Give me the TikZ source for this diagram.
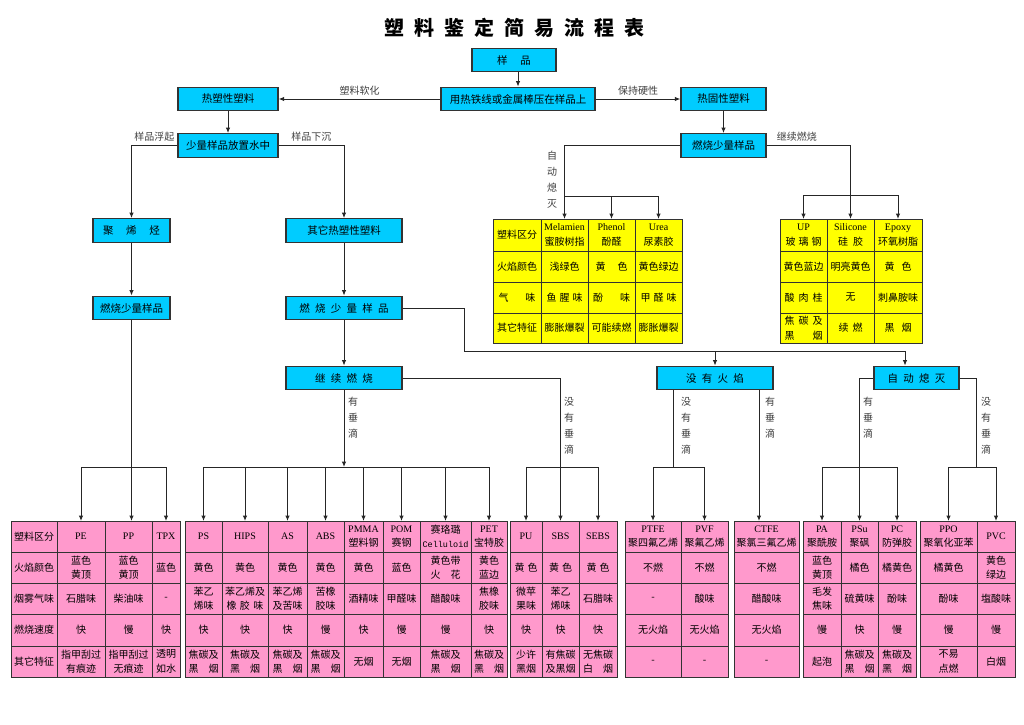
\documentclass[tikz,border=0pt]{standalone}
\usepackage{fontspec}
\setmainfont{Noto Sans CJK SC}
\newfontfamily\lat{Liberation Serif}
\newfontfamily\cellmono{Liberation Mono}
\usetikzlibrary{arrows.meta,positioning}

\definecolor{boxblue}{RGB}{0,204,255}
\definecolor{cellpink}{RGB}{255,153,204}
\definecolor{cellyellow}{RGB}{255,255,0}
\definecolor{edge}{RGB}{51,51,51}

\newcommand{\en}[1]{{\lat #1}}
\newcommand{\gp}{\hspace{.5em}}
% one table cell: style, name, x1, y1, x2, y2, text
\newcommand{\tcell}[7]{%
  \pgfmathsetmacro{\cellw}{#5-#3}%
  \pgfmathsetmacro{\cellh}{#6-#4}%
  \node[#1, minimum width=\cellw pt, minimum height=\cellh pt] (#2) at ({(#3+#5)/2},{(#4+#6)/2}) {#7};}

\tikzset{
  bluebox/.style={draw=edge, line width=1.3pt, fill=boxblue, minimum height=23.5pt,
    inner sep=0pt, font=\fontsize{10.5}{12}\selectfont},
  cellbase/.style={draw=edge, line width=0.9pt, inner sep=0pt, outer sep=0pt,
    align=center, font=\fontsize{10}{14.5}\selectfont},
  pinkcell/.style={cellbase, fill=cellpink},
  yellowcell/.style={cellbase, fill=cellyellow},
  link/.style={draw=black!85, line width=1pt},
  arr/.style={link, -{Latex[length=5.5pt,width=4.5pt]}},
  lab/.style={font=\fontsize{10}{12}\selectfont, text=black!75},
  vlab/.style={lab, align=center, inner sep=0pt, font=\fontsize{10}{16}\selectfont},
}

\begin{document}
\begin{tikzpicture}[x=1pt,y=-1pt]
  \fill[white] (0,0) rectangle (1024,724);
  \useasboundingbox (0,0) rectangle (1024,724);

  \node[font=\fontsize{20}{24}\selectfont\bfseries] (title) at (514,28)
    {塑\gp 料\gp 鉴\gp 定\gp 简\gp 易\gp 流\gp 程\gp 表};

  % flow boxes
  \node[bluebox, minimum width=84pt] (sample) at (514,60) {样\hspace{1.2em}品};
  \node[bluebox, minimum width=154pt] (press) at (518,99) {用热铁线或金属棒压在样品上};
  \node[bluebox, minimum width=100pt] (thermop) at (228,99) {热塑性塑料};
  \node[bluebox, minimum width=85pt] (thermos) at (723.5,99) {热固性塑料};
  \node[bluebox, minimum width=100pt] (water) at (228,145.5) {少量样品放置水中};
  \node[bluebox, minimum width=85pt] (burnS) at (723.5,145.5) {燃烧少量样品};
  \node[bluebox, minimum width=77pt] (polyo) at (131.5,230.5) {聚\hspace{1.2em}烯\hspace{1.2em}烃};
  \node[bluebox, minimum width=116pt] (other) at (344,230.5) {其它热塑性塑料};
  \node[bluebox, minimum width=77pt] (burnA) at (131.5,308) {燃烧少量样品};
  \node[bluebox, minimum width=116pt] (burnB) at (344,308) {燃\gp 烧\gp 少\gp 量\gp 样\gp 品};
  \node[bluebox, minimum width=116pt] (cont) at (344,378) {继\gp 续\gp 燃\gp 烧};
  \node[bluebox, minimum width=116pt] (noflame) at (715,378) {没\gp 有\gp 火\gp 焰};
  \node[bluebox, minimum width=85pt] (selfext) at (916.5,378) {自\gp 动\gp 熄\gp 灭};

  % thermoset tables
  \foreach \xa/\xb/\n/\tA/\tB/\tC/\tD in {
      493/541/ylab/塑料区分/火焰颜色/{气\hspace{1.7em}味}/其它特征,
      541/588/mel/{\en{Melamien}\\蜜胺树指}/浅绿色/{鱼\hspace{.3em}腥\hspace{.3em}味}/膨胀爆裂,
      588/635/phe/{\en{Phenol}\\酚醛}/{黄\hspace{1.2em}色}/{酚\hspace{1.7em}味}/可能续燃,
      635/682/urea/{\en{Urea}\\尿素胶}/黄色绿边/{甲\hspace{.3em}醛\hspace{.3em}味}/膨胀爆裂,
      780/827/up/{\en{UP}\\玻\hspace{.3em}璃\hspace{.3em}钢}/黄色蓝边/{酸\hspace{.4em}肉\hspace{.4em}桂}/{焦\hspace{.4em}碳\hspace{.4em}及\\黑\hspace{1.8em}烟},
      827/874/sil/{\en{Silicone}\\硅\hspace{.5em}胶}/明亮黄色/无/{续\hspace{.4em}燃},
      874/922/epo/{\en{Epoxy}\\环氧树脂}/{黄\hspace{.7em}色}/刺鼻胺味/{黑\hspace{.7em}烟}}
  {
    \tcell{yellowcell}{\n-1}{\xa}{219}{\xb}{251}{\tA}
    \tcell{yellowcell}{\n-2}{\xa}{251}{\xb}{282}{\tB}
    \tcell{yellowcell}{\n-3}{\xa}{282}{\xb}{313}{\tC}
    \tcell{yellowcell}{\n-4}{\xa}{313}{\xb}{343}{\tD}
  }

  % thermoplastic tables
  \foreach \xa/\xb/\n/\tA/\tB/\tC/\tD/\tE in {
      11/57/plab/塑料区分/火焰颜色/烟雾气味/燃烧速度/其它特征,
      57/105/pe/\en{PE}/{蓝色\\黄顶}/石腊味/快/{指甲刮过\\有痕迹},
      105/152/pp/\en{PP}/{蓝色\\黄顶}/柴油味/慢/{指甲刮过\\无痕迹},
      152/180/tpx/\en{TPX}/蓝色/-/快/{透明\\如水},
      185/222/ps/\en{PS}/黄色/{苯乙\\烯味}/快/{焦碳及\\黑\hspace{1em}烟},
      222/268/hips/\en{HIPS}/黄色/{苯乙烯及\\橡\hspace{.33em}胶\hspace{.33em}味}/快/{焦碳及\\黑\hspace{1em}烟},
      268/307/as/\en{AS}/黄色/{苯乙烯\\及苦味}/快/{焦碳及\\黑\hspace{1em}烟},
      307/344/abs/\en{ABS}/黄色/{苦橡\\胶味}/慢/{焦碳及\\黑\hspace{1em}烟},
      344/383/pmma/{\en{PMMA}\\塑料钢}/黄色/酒精味/快/无烟,
      383/420/pom/{\en{POM}\\赛钢}/蓝色/甲醛味/慢/无烟,
      420/471/cel/{赛珞璐\\{\fontsize{8.5}{14.5}\cellmono Celluloid}}/{黄色带\\火\hspace{1em}花}/醋酸味/慢/{焦碳及\\黑\hspace{1em}烟},
      471/507/pet/{\en{PET}\\宝特胶}/{黄色\\蓝边}/{焦橡\\胶味}/快/{焦碳及\\黑\hspace{1em}烟},
      510/542/pu/\en{PU}/{黄\hspace{.3em}色}/{微苹\\果味}/快/{少许\\黑烟},
      542/579/sbs/\en{SBS}/{黄\hspace{.3em}色}/{苯乙\\烯味}/快/{有焦碳\\及黑烟},
      579/617/sebs/\en{SEBS}/{黄\hspace{.3em}色}/石腊味/快/{无焦碳\\白\hspace{1em}烟},
      625/681/ptfe/{\en{PTFE}\\聚四氟乙烯}/不燃/-/无火焰/-,
      681/728/pvf/{\en{PVF}\\聚氟乙烯}/不燃/酸味/无火焰/-,
      734/799/ctfe/{\en{CTFE}\\聚氯三氟乙烯}/不燃/醋酸味/无火焰/-,
      803/841/pa/{\en{PA}\\聚酰胺}/{蓝色\\黄顶}/{毛发\\焦味}/慢/起泡,
      841/878/psu/{\en{PSu}\\聚砜}/橘色/硫黄味/快/{焦碳及\\黑\hspace{1em}烟},
      878/916/pc/{\en{PC}\\防弹胶}/橘黄色/酚味/慢/{焦碳及\\黑\hspace{1em}烟},
      920/977/ppo/{\en{PPO}\\聚氧化亚苯}/橘黄色/酚味/慢/{不易\\点燃},
      977/1015/pvc/\en{PVC}/{黄色\\绿边}/塩酸味/慢/白烟}
  {
    \tcell{pinkcell}{\n-1}{\xa}{521}{\xb}{552}{\tA}
    \tcell{pinkcell}{\n-2}{\xa}{552}{\xb}{583}{\tB}
    \tcell{pinkcell}{\n-3}{\xa}{583}{\xb}{614}{\tC}
    \tcell{pinkcell}{\n-4}{\xa}{614}{\xb}{646}{\tD}
    \tcell{pinkcell}{\n-5}{\xa}{646}{\xb}{677}{\tE}
  }

  % top of the flow
  \draw[arr] (sample.south -| press) -- (press.north);
  \draw[arr] (press.west) -- node[lab, above] (lblsoft) {塑料软化} (thermop.east);
  \draw[arr] (press.east) -- node[lab, above] (lblhard) {保持硬性} (thermos.west);
  \draw[arr] (thermop) -- (water);
  \draw[arr] (thermos) -- (burnS);
  \draw[arr] (water.west) -| node[lab, above, pos=0.25] (lblfloat) {样品浮起} (polyo.north);
  \draw[arr] (water.east) -| node[lab, above, pos=0.25] (lblsink) {样品下沉} (other.north);
  \draw[arr] (polyo) -- (burnA);
  \draw[arr] (other) -- (burnB);
  \draw[arr] (burnB) -- (cont);

  % thermoset branches
  \draw[arr] (burnS.west) -| (mel-1.north);
  \coordinate (melbus) at ([yshift=23pt]mel-1.north);
  \draw[arr] (melbus) -| (phe-1.north);
  \draw[arr] (melbus) -| (urea-1.north);
  \node[vlab, anchor=north] (lblself) at (552,151) {自\\动\\熄\\灭};
  \draw[arr] (burnS.east) -| node[lab, above, pos=0.18] (lblburn) {继续燃烧} (sil-1.north);
  \coordinate (upbus) at ([yshift=24pt]sil-1.north);
  \draw[arr] (upbus) -| (up-1.north);
  \draw[arr] (upbus) -| (epo-1.north);

  % buses above the pink tables
  \coordinate (busY) at (0,467);
  \draw[arr] (burnA.south) -- (burnA.south |- pp-1.north);
  \draw[arr] (burnA.south |- busY) -| (pe-1.north);
  \draw[arr] (burnA.south |- busY) -| (tpx-1.north);

  \draw[arr] (cont.south) -- (cont.south |- busY);
  \foreach \n in {ps,hips,as,abs,pmma,pom,cel,pet}
    \draw[arr] (cont.south |- busY) -| (\n-1.north);
  \node[vlab, anchor=north] (lbldripA) at (353,397) {有\\垂\\滴};

  \draw[arr] (cont.east) -| (sbs-1.north);
  \draw[arr] (sbs-1.north |- busY) -| (pu-1.north);
  \draw[arr] (sbs-1.north |- busY) -| (sebs-1.north);
  \node[vlab, anchor=north] (lblnodripA) at (569,397) {没\\有\\垂\\滴};

  \coordinate (jB) at (464,351);
  \coordinate (dropSE) at (905,351);
  \draw[link] (burnB.east) -| (jB) -- (dropSE);
  \draw[arr] (dropSE) -- (dropSE |- selfext.north);
  \draw[arr] (noflame.north |- jB) -- (noflame.north);

  \coordinate (nfL) at ([xshift=-42pt]noflame.south);
  \coordinate (nfR) at ([xshift=44pt]noflame.south);
  \draw[link] (nfL) -- (nfL |- busY);
  \draw[arr] (nfL |- busY) -| (ptfe-1.north);
  \draw[arr] (nfL |- busY) -| (pvf-1.north);
  \draw[arr] (nfR) -- (nfR |- ctfe-1.north);
  \node[vlab, anchor=north] (lblnodripB) at (686,397) {没\\有\\垂\\滴};
  \node[vlab, anchor=north] (lbldripB) at (770,397) {有\\垂\\滴};

  \draw[arr] (selfext.west) -| (psu-1.north);
  \draw[arr] (psu-1.north |- busY) -| (pa-1.north);
  \draw[arr] (psu-1.north |- busY) -| (pc-1.north);
  \coordinate (seR) at (976,467);
  \draw[link] (selfext.east) -| (seR);
  \draw[arr] (seR) -| (ppo-1.north);
  \draw[arr] (seR) -| (pvc-1.north);
  \node[vlab, anchor=north] (lbldripC) at (868,397) {有\\垂\\滴};
  \node[vlab, anchor=north] (lblnodripC) at (986,397) {没\\有\\垂\\滴};
\end{tikzpicture}
\end{document}
